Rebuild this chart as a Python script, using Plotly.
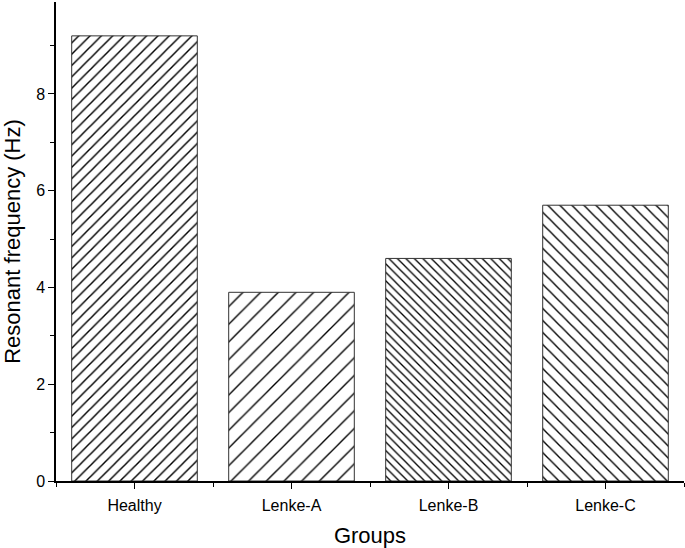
import plotly.graph_objects as go

groups = ["Healthy", "Lenke-A", "Lenke-B", "Lenke-C"]
freq = [9.2, 3.9, 4.6, 5.7]
hatch_shapes = ["/", "/", "\\", "\\"]
hatch_sizes = [8, 12.5, 6, 8.5]
hatch_solidity = [0.18, 0.11, 0.22, 0.16]

fig = go.Figure()
fig.add_trace(go.Bar(
    x=list(range(len(groups))), y=freq, width=0.8,
    marker=dict(
        color="white",
        line=dict(color="#333333", width=1),
        pattern=dict(shape=hatch_shapes, size=hatch_sizes, solidity=hatch_solidity,
                     fgcolor="black", bgcolor="white", fillmode="replace"),
    ),
    showlegend=False,
))

fig.update_layout(
    width=685, height=548,
    margin=dict(l=56, r=1, t=2, b=67),
    plot_bgcolor="white", paper_bgcolor="white",
    font=dict(family="Liberation Sans, Arial, sans-serif", color="black"),
    bargap=0.2,
)
fig.update_xaxes(
    automargin=False,
    range=[-0.5, 3.5], tickvals=list(range(len(groups))), ticktext=groups,
    showline=True, linecolor="black", linewidth=1.5, mirror=False,
    ticks="outside", ticklen=6, tickwidth=1.2, tickcolor="black",
    minor=dict(tickvals=[-0.5, 0.5, 1.5, 2.5, 3.5], ticks="outside", ticklen=4, tickwidth=1.2, tickcolor="black"),
    showgrid=False, zeroline=False,
    tickfont=dict(size=16), ticklabelstandoff=3,
    title=dict(text="Groups", font=dict(size=22), standoff=16),
)
fig.update_yaxes(
    automargin=False,
    range=[0, 9.9], tickvals=[0, 2, 4, 6, 8],
    showline=True, linecolor="black", linewidth=1.5,
    ticks="outside", ticklen=6, tickwidth=1.2, tickcolor="black",
    minor=dict(tickvals=[1, 3, 5, 7, 9], ticks="outside", ticklen=4, tickwidth=1.2, tickcolor="black"),
    showgrid=False, zeroline=False,
    tickfont=dict(size=16),
    title=dict(text="Resonant frequency (Hz)", font=dict(size=22), standoff=10),
)

fig.write_html("out.html", config={"displayModeBar": False},
               post_script="document.body.style.margin='0';")
